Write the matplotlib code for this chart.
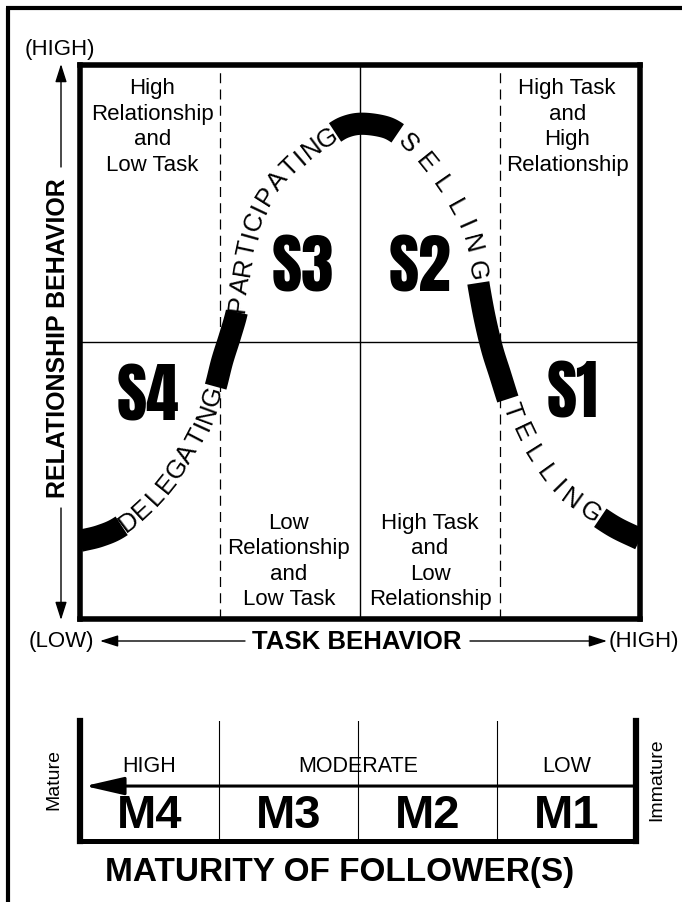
import numpy as np
import matplotlib.pyplot as plt
from matplotlib import font_manager

# leadership curve (task behaviour %, relationship behaviour %)
curve_task = [0.0, 3.6, 7.1, 11.6, 16.1, 19.6, 22.3, 24.1, 25.4, 26.8, 28.0, 28.6, 29.5, 30.7,
              32.5, 34.8, 37.5, 41.1, 44.6, 47.3, 50.4, 54.5, 57.1, 58.9, 61.6, 64.3, 66.6,
              68.4, 69.8, 70.7, 71.3, 72.3, 73.6, 75.0, 76.4, 77.5, 78.8, 80.0, 81.8, 83.9,
              87.0, 91.1, 95.5, 100.0]
curve_rel = [14.1, 15.0, 16.6, 20.2, 25.3, 30.7, 36.1, 41.5, 46.6, 51.1, 55.4, 59.6, 65.3, 70.4,
             74.9, 78.5, 81.6, 84.8, 87.2, 88.8, 89.4, 88.8, 87.4, 85.7, 82.5, 78.9, 75.3,
             71.8, 68.1, 63.5, 59.6, 54.2, 48.7, 44.2, 39.7, 36.5, 33.8, 31.2, 28.3, 25.3,
             22.2, 19.5, 16.6, 14.4]

# solid black pieces of the curve (start, end) and the words written between them
band_start = [(0.0, 14.1), (24.1, 41.9), (45.2, 88.4), (71.1, 60.5), (93.2, 19.0)]
band_end = [(7.5, 16.8), (28.0, 55.4), (56.6, 87.5), (76.4, 39.7), (100.0, 14.4)]
styles = ['DELEGATING', 'PARTICIPATING', 'SELLING', 'TELLING']

style_codes = ['S1', 'S2', 'S3', 'S4']
style_task = [88.0, 60.7, 39.8, 12.1]
style_rel = [40.8, 63.7, 63.7, 40.3]

quad_labels = ['High\nRelationship\nand\nLow Task', 'High Task\nand\nHigh\nRelationship',
               'Low\nRelationship\nand\nLow Task', 'High Task\nand\nLow\nRelationship']
quad_task = [12.9, 87.0, 37.3, 62.5]
quad_rel = [89.0, 89.0, 10.6, 10.6]

mat_levels = ['HIGH', 'MODERATE', 'LOW']
mat_level_pos = [0.5, 2.0, 3.5]
mat_codes = ['M4', 'M3', 'M2', 'M1']

names = {f.name for f in font_manager.fontManager.ttflist}


def pick(*cands):
    return [c for c in cands if c in names][:1] + ['Liberation Sans', 'DejaVu Sans']


regular = ['Liberation Sans', 'DejaVu Sans']
heavy = pick('Anton', 'Oswald', 'Barlow Condensed', 'Archivo Narrow')

W, H = 682, 903
fig = plt.figure(figsize=(W / 100, H / 100), dpi=100)


def frac(x0, y0, x1, y1):
    return [x0 / W, 1 - y1 / H, (x1 - x0) / W, (y1 - y0) / H]


# background axes in pixel units for the frame and axis captions
bg = fig.add_axes([0, 0, 1, 1])
bg.set_xlim(0, W)
bg.set_ylim(H, 0)
bg.axis('off')
bg.plot([8, 8], [9, H + 5], color='k', lw=3, solid_capstyle='butt')
bg.plot([6, W + 5], [9, 9], color='k', lw=3, solid_capstyle='butt')

head = dict(arrowstyle='-|>,head_length=1.1,head_width=0.35', color='k', lw=1,
            shrinkA=0, shrinkB=0, mutation_scale=10)
bg.text(60, 49, '(HIGH)', fontsize=16, family=regular, ha='center', va='center')
bg.annotate('', xy=(61, 65), xytext=(61, 168), arrowprops=head)
bg.annotate('', xy=(61, 621), xytext=(61, 509), arrowprops=head)
bg.text(58, 338, 'RELATIONSHIP BEHAVIOR', rotation=90, fontsize=18, fontweight='bold',
        family=regular, ha='center', va='center')

bg.text(61, 642, '(LOW)', fontsize=16, family=regular, ha='center', va='center')
bg.annotate('', xy=(100, 642), xytext=(245, 642), arrowprops=head)
bg.text(357, 642, 'TASK BEHAVIOR', fontsize=18.5, fontweight='bold', family=regular,
        ha='center', va='center')
bg.annotate('', xy=(607, 642), xytext=(470, 642), arrowprops=head)
bg.text(644, 642, '(HIGH)', fontsize=16, family=regular, ha='center', va='center')

bg.text(54, 780, 'Mature', rotation=90, fontsize=14, family=regular, ha='center', va='center')
bg.text(657, 780, 'Immature', rotation=90, fontsize=14, family=regular, ha='center', va='center')
bg.text(340, 873, 'MATURITY OF FOLLOWER(S)', fontsize=24, fontweight='bold', family=regular,
        ha='center', va='center')

# main grid
ax = fig.add_axes(frac(80, 66, 640, 620))
ax.set_xlim(0, 100)
ax.set_ylim(0, 100)
ax.set_xticks([])
ax.set_yticks([])
for sp in ax.spines.values():
    sp.set_linewidth(4)
ax.axvline(50, color='k', lw=1)
ax.axhline(50, color='k', lw=1)
for v in [25, 75]:
    ax.axvline(v, color='k', lw=0.9, ls=(0, (8, 5)))

for lab, x, y in zip(quad_labels, quad_task, quad_rel):
    ax.text(x, y, lab, fontsize=16, family=regular, ha='center', va='center', linespacing=1.28)
for lab, x, y in zip(style_codes, style_task, style_rel):
    ax.text(x, y, lab, fontsize=47, fontweight='bold', family=heavy, ha='center', va='center')

# curve in display space, smoothed for drawing
pts = ax.transData.transform(np.column_stack([curve_task, curve_rel]))


def smooth(p, n=12):
    p = np.vstack([2 * p[0] - p[1], p, 2 * p[-1] - p[-2]])
    out = []
    t = np.linspace(0, 1, n, endpoint=False)[:, None]
    for i in range(1, len(p) - 2):
        p0, p1, p2, p3 = p[i - 1], p[i], p[i + 1], p[i + 2]
        out.append(0.5 * (2 * p1 + (p2 - p0) * t + (2 * p0 - 5 * p1 + 4 * p2 - p3) * t ** 2
                          + (3 * p1 - p0 - 3 * p2 + p3) * t ** 3))
    out.append(p[-2][None])
    return np.vstack(out)


dense = smooth(pts)
s = np.concatenate([[0], np.cumsum(np.hypot(*np.diff(dense, axis=0).T))])
inv = ax.transData.inverted()


def s_of(pt):
    d = ax.transData.transform(pt)
    return s[np.argmin(np.hypot(*(dense - d).T))]


def at(si):
    return np.array([np.interp(si, s, dense[:, 0]), np.interp(si, s, dense[:, 1])])


for a, b in zip(band_start, band_end):
    s0, s1 = s_of(a), s_of(b)
    inside = dense[(s > s0) & (s < s1)]
    seg = inv.transform(np.vstack([at(s0), inside, at(s1)]))
    ax.plot(seg[:, 0], seg[:, 1], color='k', lw=16, solid_capstyle='butt',
            solid_joinstyle='round', zorder=3)

for k, word in enumerate(styles):
    sa, sb = s_of(band_end[k]), s_of(band_start[k + 1])
    wts = np.array([0.5 if ch == 'I' else 1.0 for ch in word])
    mids = (np.cumsum(wts) - wts / 2) / wts.sum()
    for ch, m in zip(word, mids):
        si = sa + m * (sb - sa)
        d = at(si + 2) - at(si - 2)
        ang = np.degrees(np.arctan2(d[1], d[0]))
        x, y = inv.transform(at(si))
        ax.text(x, y, ch, rotation=ang, rotation_mode='anchor', ha='center', va='center',
                fontsize=18.5, family=regular, zorder=4)

# maturity continuum
mx = fig.add_axes(frac(80, 722, 636, 842))
mx.set_xlim(0, 4)
mx.set_ylim(0, 1)
mx.set_xticks([])
mx.set_yticks([])
mx.spines['top'].set_visible(False)
mx.spines['left'].set_linewidth(4.5)
mx.spines['right'].set_linewidth(4.5)
mx.spines['bottom'].set_linewidth(3.6)
for v in [1, 2, 3]:
    mx.axvline(v, color='k', lw=0.8)
mx.annotate('', xy=(0.035, 0.458), xytext=(4, 0.458),
            arrowprops=dict(arrowstyle='-|>,head_length=2.4,head_width=0.55', color='k',
                            lw=2.2, shrinkA=0, shrinkB=0, mutation_scale=10))
for lab, x in zip(mat_levels, mat_level_pos):
    mx.text(x, 0.625, lab, fontsize=15.5, family=regular, ha='center', va='center')
for i, lab in enumerate(mat_codes):
    mx.text(i + 0.5, 0.215, lab, fontsize=34, fontweight='bold', family=regular,
            ha='center', va='center')

fig.savefig('out.png', dpi=100)
